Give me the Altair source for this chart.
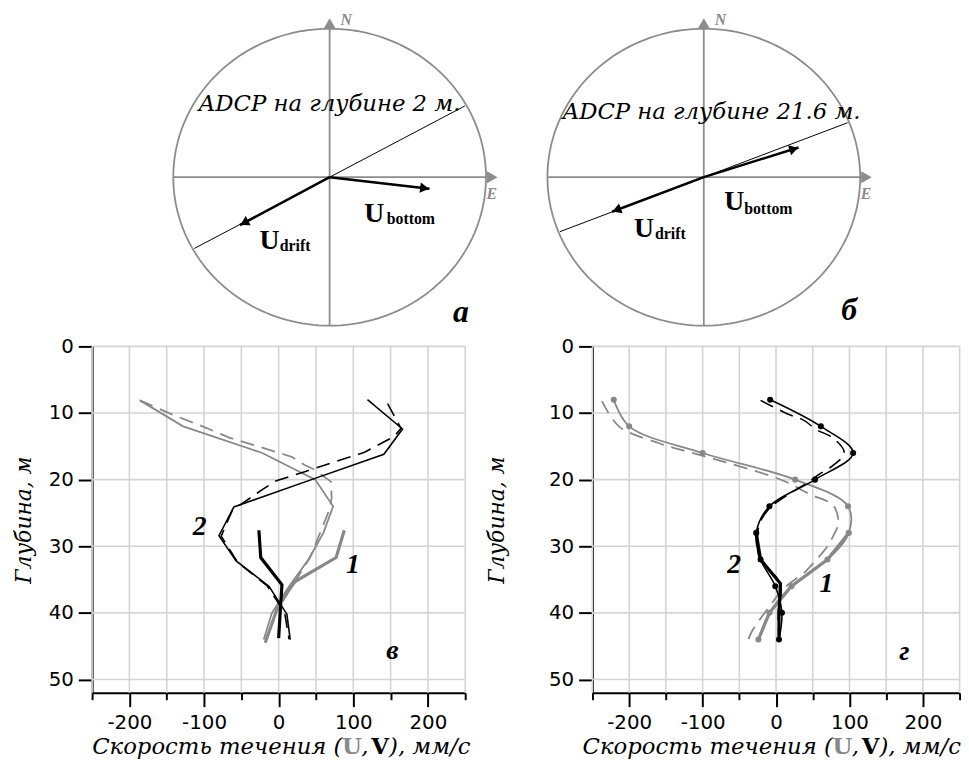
import altair as alt
import pandas as pd

GREY = "#8c8c8c"
LGREY = "#888888"
GRID = "#d4d4d4"
SERIF = "Liberation Serif"
WSERIF = "DejaVu Serif"
SANS = "DejaVu Sans"

# ---------------- compass panels (а, б) ----------------
# unit ellipse = compass circle; vectors in units of the circle radius (east, north)
panel_letters = ["а", "б"]
adcp_titles = ["ADCP на глубине 2 м.", "ADCP на глубине 21.6 м."]
adcp_line_e = [0.865, 0.92]
adcp_line_n = [0.48, 0.367]
drift_e = [-0.574, -0.587]
drift_n = [-0.323, -0.233]
bottom_e = [0.639, 0.606]
bottom_n = [-0.078, 0.2]

# label placement (layout, in circle-radius units)
LAB = [
    dict(ud=(-0.384, -0.485), sd=(-0.319, -0.498), ub=(0.285, -0.30), sb=(0.365, -0.318),
         title=(0.0, 0.444), letter=(0.84, -0.978)),
    dict(ud=(-0.382, -0.40), sd=(-0.312, -0.415), ub=(0.194, -0.223), sb=(0.258, -0.248),
         title=(0.05, 0.389), letter=(0.93, -0.96)),
]

RX, RY = 158.0, 150.0       # px per unit
PWS = [377, 371]            # profile panel widths (also compass cell widths)
CH = 338.0                  # compass row height
CX0S = [240.0, 112.5]       # centre offset inside compass cell
CY0 = 167.0
PH = 350


def compass(k):
    CW, CX0 = PWS[k], CX0S[k]
    xs = alt.Scale(domain=[-CX0 / RX, (CW - CX0) / RX], nice=False, zero=False)
    ys = alt.Scale(domain=[-(CH - CY0) / RY, CY0 / RY], nice=False, zero=False)
    X = lambda f: alt.X(f, scale=xs, axis=None)
    Y = lambda f: alt.Y(f, scale=ys, axis=None)

    ring = alt.Chart(alt.sequence(0, 362, 2, as_="t")).transform_calculate(
        cx="cos(datum.t*PI/180)", cy="sin(datum.t*PI/180)"
    ).mark_line(color=GREY, strokeWidth=1.8).encode(x=X("cx:Q"), y=Y("cy:Q"), order="t:Q")

    frame = pd.DataFrame({"a": [0, -1], "b": [-1, 0], "a2": [0, 1.03], "b2": [1.03, 0]})
    axes = alt.Chart(frame).mark_rule(color=GREY, strokeWidth=1.8).encode(
        x=X("a:Q"), y=Y("b:Q"), x2="a2:Q", y2="b2:Q")

    north = alt.Chart(pd.DataFrame({"a": [0], "b": [1.035]})).mark_point(
        shape="triangle-up", filled=True, size=150, color=GREY, opacity=1).encode(x=X("a:Q"), y=Y("b:Q"))
    east = alt.Chart(pd.DataFrame({"a": [1.04], "b": [0]})).mark_point(
        shape="triangle-right", filled=True, size=150, color=GREY, opacity=1).encode(x=X("a:Q"), y=Y("b:Q"))
    nlab = alt.Chart(pd.DataFrame({"a": [0.07], "b": [1.022], "t": ["N"]})).mark_text(
        font=SERIF, fontStyle="italic", fontWeight="bold", fontSize=16, color=GREY, align="left",
        baseline="alphabetic").encode(x=X("a:Q"), y=Y("b:Q"), text="t:N")
    elab = alt.Chart(pd.DataFrame({"a": [1.004], "b": [-0.145], "t": ["E"]})).mark_text(
        font=SERIF, fontStyle="italic", fontWeight="bold", fontSize=16, color=GREY, align="left",
        baseline="alphabetic").encode(x=X("a:Q"), y=Y("b:Q"), text="t:N")

    adcp = alt.Chart(pd.DataFrame({"e": [adcp_line_e[k]], "n": [adcp_line_n[k]]})).transform_calculate(
        me="-datum.e", mn="-datum.n").mark_rule(color="black", strokeWidth=1).encode(
        x=X("me:Q"), y=Y("mn:Q"), x2="e:Q", y2="n:Q")

    vec = pd.DataFrame({"e": [drift_e[k], bottom_e[k]], "n": [drift_n[k], bottom_n[k]]})
    vbase = alt.Chart(vec).transform_calculate(
        ang=f"atan2(datum.n*{RY}, datum.e*{RX})",
        hx=f"datum.e - 5*cos(datum.ang)/{RX}",
        hy=f"datum.n - 5*sin(datum.ang)/{RY}",
        rot="(360 - datum.ang*180/PI) % 360",
        z="0",
    )
    shafts = vbase.mark_rule(color="black", strokeWidth=2.5).encode(
        x=X("z:Q"), y=Y("z:Q"), x2="e:Q", y2="n:Q")
    heads = vbase.mark_point(shape="triangle-right", filled=True, size=110, color="black", opacity=1).encode(
        x=X("hx:Q"), y=Y("hy:Q"), angle=alt.Angle("rot:Q", scale=None))

    L = LAB[k]
    title = alt.Chart(pd.DataFrame({"a": [L["title"][0]], "b": [L["title"][1]], "t": [adcp_titles[k]]})).mark_text(
        font=WSERIF, fontStyle="italic", fontSize=23, color="black", align="center", baseline="alphabetic").encode(
        x=X("a:Q"), y=Y("b:Q"), text="t:N")
    us = alt.Chart(pd.DataFrame({"a": [L["ud"][0], L["ub"][0]], "b": [L["ud"][1], L["ub"][1]], "t": ["U", "U"]})).mark_text(
        font=SERIF, fontWeight="bold", fontSize=28, color="black", align="center", baseline="alphabetic").encode(
        x=X("a:Q"), y=Y("b:Q"), text="t:N")
    subs = alt.Chart(pd.DataFrame({"a": [L["sd"][0], L["sb"][0]], "b": [L["sd"][1], L["sb"][1]], "t": ["drift", "bottom"]})).mark_text(
        font=SERIF, fontWeight="bold", fontSize=16, color="black", align="left", baseline="alphabetic").encode(
        x=X("a:Q"), y=Y("b:Q"), text="t:N")
    letter = alt.Chart(pd.DataFrame({"a": [L["letter"][0]], "b": [L["letter"][1]], "t": [panel_letters[k]]})).mark_text(
        font=SERIF, fontStyle="italic", fontWeight="bold", fontSize=32, color="black", align="center", baseline="alphabetic").encode(
        x=X("a:Q"), y=Y("b:Q"), text="t:N")

    return alt.layer(ring, axes, north, east, nlab, elab, adcp, shafts, heads, title, us, subs, letter).properties(
        width=CW, height=CH)


# ---------------- profile panels (в, г) ----------------
# panel в
v_obs1_depth = [8.1, 12, 16, 20, 24, 28, 32, 36, 40, 44]
v_obs1_speed = [-186, -128, -22, 49, 73, 60, 40, 14, -9, -20]
v_mod1_depth = [8.1, 10.3, 12.0, 13.7, 15.2, 16.6, 17.8, 18.5, 20.3, 22.8, 24.5, 27.6, 31.7, 36, 40, 44.5]
v_mod1_speed = [-186, -141, -102, -66, -22, 18, 35, 48, 70, 71, 68, 57, 42, 18, -4, -18]
v_obs2_depth = [8, 12.4, 16.2, 20, 24.1, 28.4, 32.2, 36, 40.2, 44]
v_obs2_speed = [119, 166, 141, 44, -60, -80, -57, -13, 11, 15.5]
v_mod2_depth = [8.6, 12.3, 13.5, 15.9, 18.8, 20.2, 21.5, 24.6, 28.5, 32.4, 36, 40, 44]
v_mod2_speed = [146, 164, 155, 115, 35, -4, -22, -62, -77, -55, -15, 8, 14]
v_bot1_depth = [27.6, 31.7, 35.3, 38.7, 44.5]
v_bot1_speed = [88, 77, 22, 0, -18]
v_bot2_depth = [27.6, 31.7, 35.8, 40, 43.8]
v_bot2_speed = [-26.5, -24, 4.4, 2, 0]

# panel г
g_obs1_depth = [8, 12, 16, 20, 24, 28, 32, 36, 40, 44]
g_obs1_speed = [-221, -200, -100, 26, 98, 99, 70, 21, -9, -24]
g_mod1_depth = [8.2, 12, 14.5, 15.9, 17.4, 20.2, 22.2, 23.9, 26.5, 28, 30, 32, 33.8, 36.3, 39.5, 42.8, 44.1]
g_mod1_speed = [-237, -214, -160, -117, -68, 11, 46, 78, 85, 80, 70, 55, 40, 11, -12, -33, -38]
g_obs2_depth = [8, 12, 16, 20, 24, 28, 32, 36, 40, 44]
g_obs2_speed = [-8, 61, 105, 53, -9, -27, -21, -1, 8, 4]
g_mod2_depth = [8.1, 10.1, 11.1, 12.5, 13.7, 16, 18.1, 19.1, 20.3, 22, 24, 26, 28, 32, 35.6, 40, 44]
g_mod2_speed = [-21, 15, 38, 55, 77, 93, 75, 60, 45, 20, -6, -20, -25, -22, 6, 3, 4]
g_bot1_depth = [28, 32, 36, 40, 44]
g_bot1_speed = [99, 70, 21, -9, -24]
g_bot2_depth = [28, 32, 35.6, 40, 44]
g_bot2_speed = [-27, -21, 6, 4, 4]

curve_labels_v = [("2", -106, 27.1), ("1", 99.5, 32.9)]
curve_labels_g = [("2", -57, 32.8), ("1", 68.5, 35.7)]
panel_letter_pos = [("в", 152.5, 45.8), ("г", 174.7, 45.9)]

x_ticks = list(range(-250, 251, 50))
y_ticks = list(range(0, 51, 10))

STYLE = {
    "obs1": dict(color=LGREY, strokeWidth=1.8),
    "mod1": dict(color=LGREY, strokeWidth=1.8, strokeDash=[14, 8]),
    "obs2": dict(color="black", strokeWidth=1.6),
    "mod2": dict(color="black", strokeWidth=1.6, strokeDash=[14, 8]),
    "bot1": dict(color=LGREY, strokeWidth=3.2),
    "bot2": dict(color="black", strokeWidth=3.2),
}


def make_df(d):
    rows = []
    for name, (dep, spd) in d.items():
        for i, (a, b) in enumerate(zip(dep, spd)):
            rows.append({"s": name, "i": i, "depth": a, "speed": b})
    return pd.DataFrame(rows)


def profile(d, curve_labels, letter, dots, smooth, title_pad, PW, tshift):
    xs = alt.Scale(domain=[-250, 250], nice=False, zero=False)
    ys = alt.Scale(domain=[0, 52], nice=False, zero=False, reverse=True)
    xaxis = alt.Axis(
        values=x_ticks,
        labelExpr="datum.value % 100 === 0 ? (datum.value < 0 ? '-' + abs(datum.value) : '' + datum.value) : ''",
        tickSize={"condition": {"test": "datum.value % 100 === 0", "value": 14}, "value": 7},
        tickColor="black", tickWidth=2, domainColor="black", domainWidth=2, grid=False,
        labelFont=SANS, labelFontSize=20, labelColor="black", labelPadding=6, title=None,
    )
    yaxis = alt.Axis(
        values=y_ticks, tickSize=14,
        tickColor="black", tickWidth=2, domainColor="black", domainWidth=2, grid=False,
        labelFont=SANS, labelFontSize=20, labelColor="black", labelPadding=5,
        title="Глубина, м", titleFont=WSERIF, titleFontStyle="italic", titleFontWeight="normal",
        titleFontSize=22, titleColor="black", titlePadding=title_pad,
    )
    X = lambda f: alt.X(f, scale=xs, axis=xaxis)
    Y = lambda f: alt.Y(f, scale=ys, axis=yaxis)
    layers = [
        alt.Chart(pd.DataFrame({"gx": x_ticks})).mark_rule(color=GRID, strokeWidth=1.6).encode(x=X("gx:Q")),
        alt.Chart(pd.DataFrame({"gy": y_ticks})).mark_rule(color=GRID, strokeWidth=1.6).encode(y=Y("gy:Q")),
    ]
    df = make_df(d)
    base = alt.Chart(df)
    for name in ["obs1", "mod1", "bot1", "obs2", "mod2", "bot2"]:
        interp = "catmull-rom" if (smooth and name in ("obs1", "obs2", "mod1", "mod2")) else "linear"
        layers.append(base.transform_filter(alt.datum.s == name).mark_line(interpolate=interp, **STYLE[name]).encode(
            x=X("speed:Q"), y=Y("depth:Q"), order="i:Q"))
    if dots:
        for name, col in [("obs1", LGREY), ("obs2", "black")]:
            layers.append(base.transform_filter(alt.datum.s == name).mark_circle(size=38, color=col, opacity=1).encode(
                x=X("speed:Q"), y=Y("depth:Q")))
    lab = pd.DataFrame({"t": [c[0] for c in curve_labels] + [letter[0]],
                        "x": [c[1] for c in curve_labels] + [letter[1]],
                        "y": [c[2] for c in curve_labels] + [letter[2]]})
    layers.append(alt.Chart(lab).mark_text(font=SERIF, fontStyle="italic", fontWeight="bold", fontSize=28,
                                           color="black", align="center", baseline="middle").encode(
        x=X("x:Q"), y=Y("y:Q"), text="t:N"))
    # x-axis title with coloured bold U and V
    ty = PH + 62
    pieces = [
        ("Скорость течения (", 253, "right", "italic", "normal", "black"),
        ("U", 262.5, "center", "normal", "bold", LGREY),
        (",", 272, "left", "italic", "normal", "black"),
        ("V", 291, "center", "normal", "bold", "black"),
        ("), мм/с", 300, "left", "italic", "normal", "black"),
    ]
    for t, px, al, fs, fw, col in pieces:
        layers.append(alt.Chart(pd.DataFrame({"t": [t]})).mark_text(
            font=WSERIF, fontSize=23, fontStyle=fs, fontWeight=fw, color=col, align=al, baseline="alphabetic").encode(
            x=alt.value(px + tshift), y=alt.value(ty), text="t:N"))
    return alt.layer(*layers).properties(width=PW, height=PH)


panel_v = profile({"obs1": (v_obs1_depth, v_obs1_speed), "mod1": (v_mod1_depth, v_mod1_speed),
                   "obs2": (v_obs2_depth, v_obs2_speed), "mod2": (v_mod2_depth, v_mod2_speed),
                   "bot1": (v_bot1_depth, v_bot1_speed), "bot2": (v_bot2_depth, v_bot2_speed)},
                  curve_labels_v, panel_letter_pos[0], dots=False, smooth=False, title_pad=13, PW=PWS[0], tshift=0)
panel_g = profile({"obs1": (g_obs1_depth, g_obs1_speed), "mod1": (g_mod1_depth, g_mod1_speed),
                   "obs2": (g_obs2_depth, g_obs2_speed), "mod2": (g_mod2_depth, g_mod2_speed),
                   "bot1": (g_bot1_depth, g_bot1_speed), "bot2": (g_bot2_depth, g_bot2_speed)},
                  curve_labels_g, panel_letter_pos[1], dots=True, smooth=True, title_pad=40, PW=PWS[1], tshift=-10)

chart = alt.concat(
    compass(0), compass(1), panel_v, panel_g,
    columns=2, spacing={"row": 0, "column": 128.6}, bounds="flush", align="none",
).properties(
    padding={"left": 4, "top": 0, "right": 0, "bottom": 0}
).configure_view(stroke=None)

chart.save("out.html", embed_options={"renderer": "svg", "actions": False})
